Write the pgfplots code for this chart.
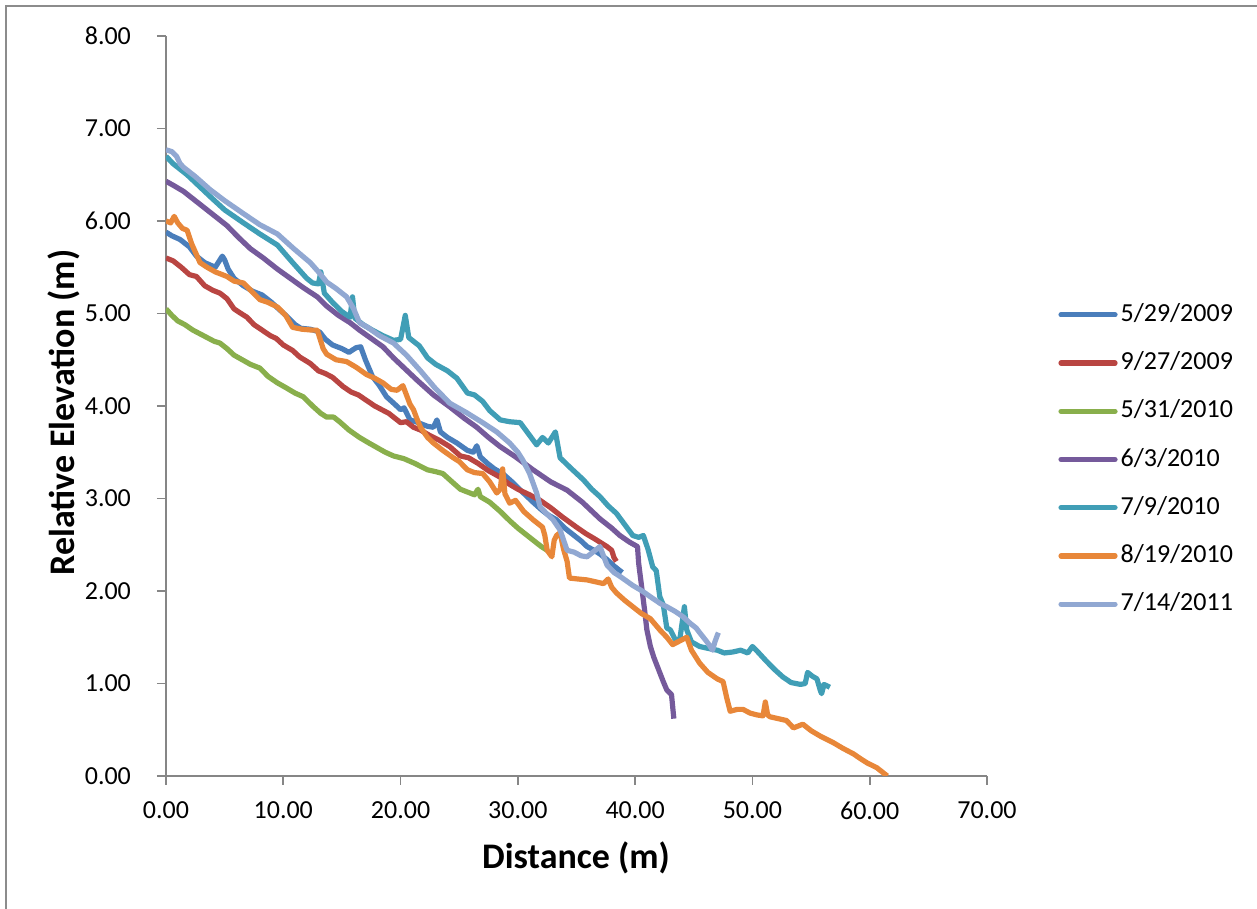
\documentclass[border=0pt]{standalone}
\usepackage{fontspec}
\setmainfont{Carlito}
\usepackage{pgfplots}
\pgfplotsset{compat=1.18}

\definecolor{s1}{RGB}{74,126,187}
\definecolor{s2}{RGB}{185,69,66}
\definecolor{s3}{RGB}{137,175,76}
\definecolor{s4}{RGB}{117,90,155}
\definecolor{s5}{RGB}{64,158,182}
\definecolor{s6}{RGB}{232,135,57}
\definecolor{s7}{RGB}{145,168,210}
\definecolor{axisgray}{RGB}{134,134,134}
\definecolor{framegray}{RGB}{140,140,140}

\begin{document}
\begin{tikzpicture}
\useasboundingbox (-83pt,-66.5pt) rectangle (545.5pt,388pt);
\draw[framegray, line width=1.2pt] (-80pt,-70pt) -- (-80pt,385pt) -- (550pt,385pt);
\begin{axis}[
    scale only axis,
    width=410.5pt,
    height=370pt,
    xmin=0, xmax=70,
    ymin=0, ymax=8,
    xtick={0,10,...,70},
    ytick={0,1,...,8},
    axis x line*=bottom,
    axis y line*=left,
    axis line style={draw=axisgray, line width=0.9pt},
    tick style={draw=axisgray, line width=0.9pt},
    tick align=outside,
    major tick length=4.5pt,
    tick label style={font=\fontsize{13}{15}\selectfont, text=black},
    xticklabel style={yshift=-5pt},
    yticklabel style={xshift=-9.5pt},
    /pgf/number format/.cd, fixed, fixed zerofill, precision=2, assume math mode=true,
    /pgfplots/.cd,
    xlabel={\textbf{Distance (m)}},
    ylabel={\textbf{Relative Elevation (m)}},
    every axis x label/.style={at={(axis description cs:0.4994,-0.1108)}, anchor=center,
        font=\fontsize{18}{20}\selectfont},
    every axis y label/.style={at={(axis description cs:-0.1242,0.491)}, rotate=90, anchor=center,
        font=\fontsize{18}{20}\selectfont},
    legend style={at={(rel axis cs:1.0865,0.4277)}, anchor=west, draw=none, fill=none,
        font=\fontsize{13}{15}\selectfont, inner sep=0pt, row sep=9.6pt,
        nodes={inner sep=1.5pt, text height=9pt, text depth=2.5pt}},
    legend cell align=left,
    legend image code/.code={\draw[#1, line width=2.6pt, line cap=round] (0pt,0pt) -- (27pt,0pt);},
    every axis plot/.append style={line width=2.6pt, line join=round, no markers},
]
% 5/29/2009
\addplot[s1] coordinates {
(0,5.88) (0.5,5.84) (1.2,5.80) (2.0,5.72) (2.6,5.62) (3.3,5.55) (4.2,5.50) (4.8,5.62) (5.0,5.58) (5.3,5.48) (5.8,5.38) (6.6,5.30) (7.4,5.24) (8.2,5.20) (9.0,5.12) (9.6,5.05) (10.3,4.97) (11.0,4.88) (11.5,4.84) (12.3,4.83) (13.1,4.80) (13.6,4.72) (14.2,4.66) (15.0,4.62) (15.6,4.58) (16.2,4.63) (16.6,4.64) (17.0,4.50) (17.6,4.32) (18.2,4.22) (18.8,4.10) (19.5,4.02) (20.0,3.96) (20.3,3.98) (20.8,3.85) (21.5,3.82) (22.3,3.78) (22.8,3.77) (23.1,3.85) (23.4,3.72) (24.0,3.66) (24.8,3.60) (25.7,3.52) (26.2,3.50) (26.5,3.57) (26.8,3.45) (27.4,3.38) (28.0,3.32) (28.7,3.27) (29.5,3.18) (30.3,3.08) (31.3,2.96) (32.0,2.88) (32.6,2.82) (33.3,2.77) (34.0,2.68) (34.8,2.60) (35.4,2.54) (35.9,2.48) (36.5,2.44) (37.0,2.40) (37.6,2.34) (38.2,2.27) (38.9,2.20)
};
\addlegendentry{5/29/2009}
% 9/27/2009
\addplot[s2] coordinates {
(0,5.60) (0.6,5.57) (1.3,5.50) (2.0,5.42) (2.6,5.40) (3.3,5.30) (4.0,5.25) (4.6,5.22) (5.2,5.16) (5.8,5.05) (6.4,5.00) (6.9,4.96) (7.5,4.88) (8.2,4.82) (8.9,4.76) (9.4,4.73) (10.0,4.66) (10.8,4.60) (11.4,4.53) (12.3,4.46) (13.0,4.38) (13.6,4.35) (14.2,4.31) (15.1,4.21) (15.8,4.15) (16.4,4.12) (17.1,4.06) (17.8,4.00) (18.4,3.96) (19.0,3.92) (19.4,3.88) (20.0,3.82) (20.5,3.83) (21.1,3.77) (21.7,3.74) (22.5,3.68) (23.3,3.63) (24.2,3.56) (25.1,3.46) (25.8,3.44) (26.6,3.38) (27.5,3.30) (28.5,3.23) (29.2,3.16) (30.0,3.10) (31.0,3.04) (31.9,2.98) (32.8,2.90) (33.8,2.80) (35.0,2.69) (35.8,2.62) (36.6,2.56) (37.6,2.48) (38.0,2.44) (38.2,2.36) (38.4,2.32)
};
\addlegendentry{9/27/2009}
% 5/31/2010
\addplot[s3] coordinates {
(0,5.05) (0.5,4.98) (1.0,4.92) (1.6,4.88) (2.3,4.82) (2.9,4.78) (3.5,4.74) (4.1,4.70) (4.6,4.68) (5.2,4.62) (5.8,4.55) (6.5,4.50) (7.2,4.45) (8.0,4.41) (8.7,4.32) (9.5,4.25) (10.2,4.20) (11.0,4.14) (11.7,4.10) (12.5,4.00) (13.2,3.92) (13.7,3.88) (14.3,3.88) (14.8,3.83) (15.6,3.74) (16.5,3.66) (17.3,3.60) (18.0,3.55) (18.7,3.50) (19.4,3.46) (20.3,3.43) (21.2,3.38) (22.3,3.31) (23.0,3.29) (23.6,3.27) (24.3,3.19) (25.1,3.10) (25.7,3.07) (26.3,3.04) (26.6,3.10) (26.8,3.02) (27.6,2.96) (28.5,2.86) (29.3,2.76) (30.0,2.68) (30.8,2.60) (31.5,2.53) (32.0,2.48) (32.5,2.44)
};
\addlegendentry{5/31/2010}
% 6/3/2010
\addplot[s4] coordinates {
(0,6.43) (0.7,6.38) (1.5,6.32) (2.3,6.24) (3.2,6.15) (4.2,6.05) (5.2,5.95) (6.2,5.82) (7.2,5.70) (8.3,5.60) (9.5,5.48) (10.6,5.38) (11.7,5.28) (12.9,5.18) (13.7,5.08) (14.7,4.98) (15.7,4.90) (16.5,4.82) (17.5,4.73) (18.5,4.64) (19.4,4.52) (20.4,4.40) (21.4,4.28) (22.8,4.12) (24.2,3.99) (25.4,3.87) (26.5,3.77) (27.5,3.66) (28.5,3.56) (29.8,3.45) (31.3,3.31) (32.8,3.18) (34.2,3.09) (35.5,2.96) (37.0,2.78) (38.0,2.68) (38.7,2.60) (39.5,2.53) (40.2,2.48) (40.3,2.30) (40.5,2.10) (40.8,1.80) (41.0,1.58) (41.3,1.40) (41.6,1.28) (42.0,1.15) (42.4,1.02) (42.7,0.93) (43.1,0.88) (43.2,0.75) (43.3,0.62)
};
\addlegendentry{6/3/2010}
% 7/9/2010
\addplot[s5] coordinates {
(0,6.70) (0.6,6.62) (1.2,6.56) (1.8,6.50) (2.8,6.38) (3.8,6.26) (5.0,6.12) (6.6,5.98) (8.0,5.86) (9.5,5.74) (10.8,5.55) (12.0,5.38) (12.5,5.33) (13.0,5.32) (13.2,5.45) (13.5,5.22) (14.2,5.12) (15.0,5.02) (15.7,4.96) (15.9,5.18) (16.1,4.95) (16.8,4.88) (17.6,4.82) (18.5,4.76) (19.4,4.71) (20.0,4.72) (20.4,4.98) (20.7,4.74) (21.1,4.70) (21.6,4.65) (22.3,4.52) (23.0,4.45) (24.0,4.38) (24.8,4.30) (25.7,4.14) (26.3,4.12) (27.0,4.05) (27.6,3.95) (28.5,3.85) (29.3,3.83) (30.2,3.82) (30.9,3.70) (31.6,3.58) (32.1,3.66) (32.6,3.60) (33.2,3.72) (33.6,3.44) (34.5,3.33) (35.6,3.20) (36.3,3.10) (37.0,3.02) (37.7,2.92) (38.4,2.84) (39.1,2.72) (39.8,2.60) (40.3,2.58) (40.7,2.60) (41.1,2.45) (41.5,2.26) (41.8,2.22) (42.1,1.94) (42.4,1.85) (42.7,1.60) (43.0,1.58) (43.4,1.48) (43.8,1.47) (44.2,1.83) (44.4,1.58) (44.8,1.45) (45.5,1.40) (46.2,1.38) (47.0,1.36) (47.6,1.33) (48.3,1.34) (49.0,1.36) (49.6,1.33) (50.0,1.40) (50.4,1.35) (51.2,1.24) (51.9,1.15) (52.6,1.07) (53.3,1.01) (54.1,0.99) (54.5,1.00) (54.7,1.12) (55.1,1.08) (55.5,1.05) (55.8,0.92) (55.9,0.89) (56.1,0.99) (56.6,0.96)
};
\addlegendentry{7/9/2010}
% 8/19/2010
\addplot[s6] coordinates {
(0,6.00) (0.4,5.98) (0.7,6.05) (1.0,5.98) (1.4,5.92) (1.8,5.90) (2.2,5.75) (2.9,5.55) (3.5,5.50) (4.2,5.45) (5.2,5.40) (5.8,5.35) (6.6,5.33) (7.3,5.24) (8.0,5.15) (8.7,5.12) (9.5,5.07) (10.2,4.98) (10.8,4.85) (11.6,4.83) (12.5,4.82) (12.9,4.82) (13.4,4.62) (13.7,4.56) (14.5,4.50) (15.4,4.48) (16.2,4.42) (17.1,4.34) (17.8,4.30) (18.5,4.25) (19.2,4.18) (19.7,4.17) (20.2,4.22) (20.5,4.12) (20.8,4.02) (21.1,3.96) (21.4,3.86) (21.7,3.77) (22.3,3.66) (22.8,3.60) (23.6,3.52) (24.5,3.44) (25.0,3.40) (25.7,3.31) (26.3,3.28) (27.0,3.27) (27.6,3.18) (28.2,3.06) (28.5,3.10) (28.7,3.32) (28.9,3.05) (29.3,2.95) (29.8,2.98) (30.5,2.86) (31.3,2.77) (32.1,2.69) (32.3,2.60) (32.5,2.44) (32.9,2.37) (33.1,2.55) (33.3,2.60) (33.6,2.63) (33.9,2.45) (34.2,2.32) (34.4,2.14) (35.1,2.13) (35.9,2.12) (36.6,2.10) (37.3,2.08) (37.7,2.13) (38.0,2.04) (38.4,1.98) (39.1,1.90) (39.8,1.83) (40.5,1.76) (41.3,1.70) (42.1,1.58) (42.7,1.50) (43.2,1.42) (43.8,1.46) (44.4,1.50) (44.8,1.36) (45.5,1.22) (46.2,1.12) (47.0,1.05) (47.5,1.02) (47.8,0.85) (48.1,0.70) (48.7,0.72) (49.2,0.72) (49.8,0.68) (50.4,0.66) (50.9,0.65) (51.1,0.80) (51.3,0.66) (51.5,0.64) (52.2,0.62) (52.9,0.60) (53.5,0.52) (54.3,0.56) (55.0,0.49) (55.8,0.43) (56.9,0.36) (57.7,0.30) (58.6,0.24) (59.3,0.18) (59.8,0.14) (60.6,0.09) (61.1,0.04) (61.5,0.00)
};
\addlegendentry{8/19/2010}
% 7/14/2011
\addplot[s7] coordinates {
(0,6.77) (0.5,6.75) (0.9,6.70) (1.2,6.62) (1.5,6.58) (2.5,6.48) (3.75,6.34) (5.0,6.22) (6.6,6.08) (8.0,5.96) (9.5,5.86) (10.9,5.70) (12.3,5.55) (13.0,5.45) (13.7,5.34) (14.5,5.27) (15.4,5.18) (16.0,5.05) (16.5,4.90) (17.2,4.85) (18.2,4.76) (19.4,4.68) (20.5,4.55) (21.7,4.38) (22.9,4.20) (24.2,4.03) (25.6,3.93) (27.0,3.82) (28.2,3.72) (29.3,3.60) (30.0,3.50) (30.4,3.42) (31.0,3.27) (31.6,3.06) (31.9,2.91) (32.5,2.83) (33.0,2.77) (33.6,2.66) (33.9,2.55) (34.2,2.44) (34.8,2.42) (35.4,2.38) (35.9,2.37) (36.5,2.43) (37.0,2.48) (37.3,2.38) (37.6,2.28) (38.2,2.20) (38.8,2.15) (39.8,2.06) (40.6,2.00) (41.5,1.92) (42.2,1.86) (42.7,1.83) (43.4,1.78) (44.1,1.72) (44.7,1.65) (45.2,1.60) (45.5,1.55) (46.0,1.47) (46.3,1.42) (46.6,1.36) (46.8,1.45) (47.0,1.52) (47.1,1.55)
};
\addlegendentry{7/14/2011}
\end{axis}
\end{tikzpicture}
\end{document}
